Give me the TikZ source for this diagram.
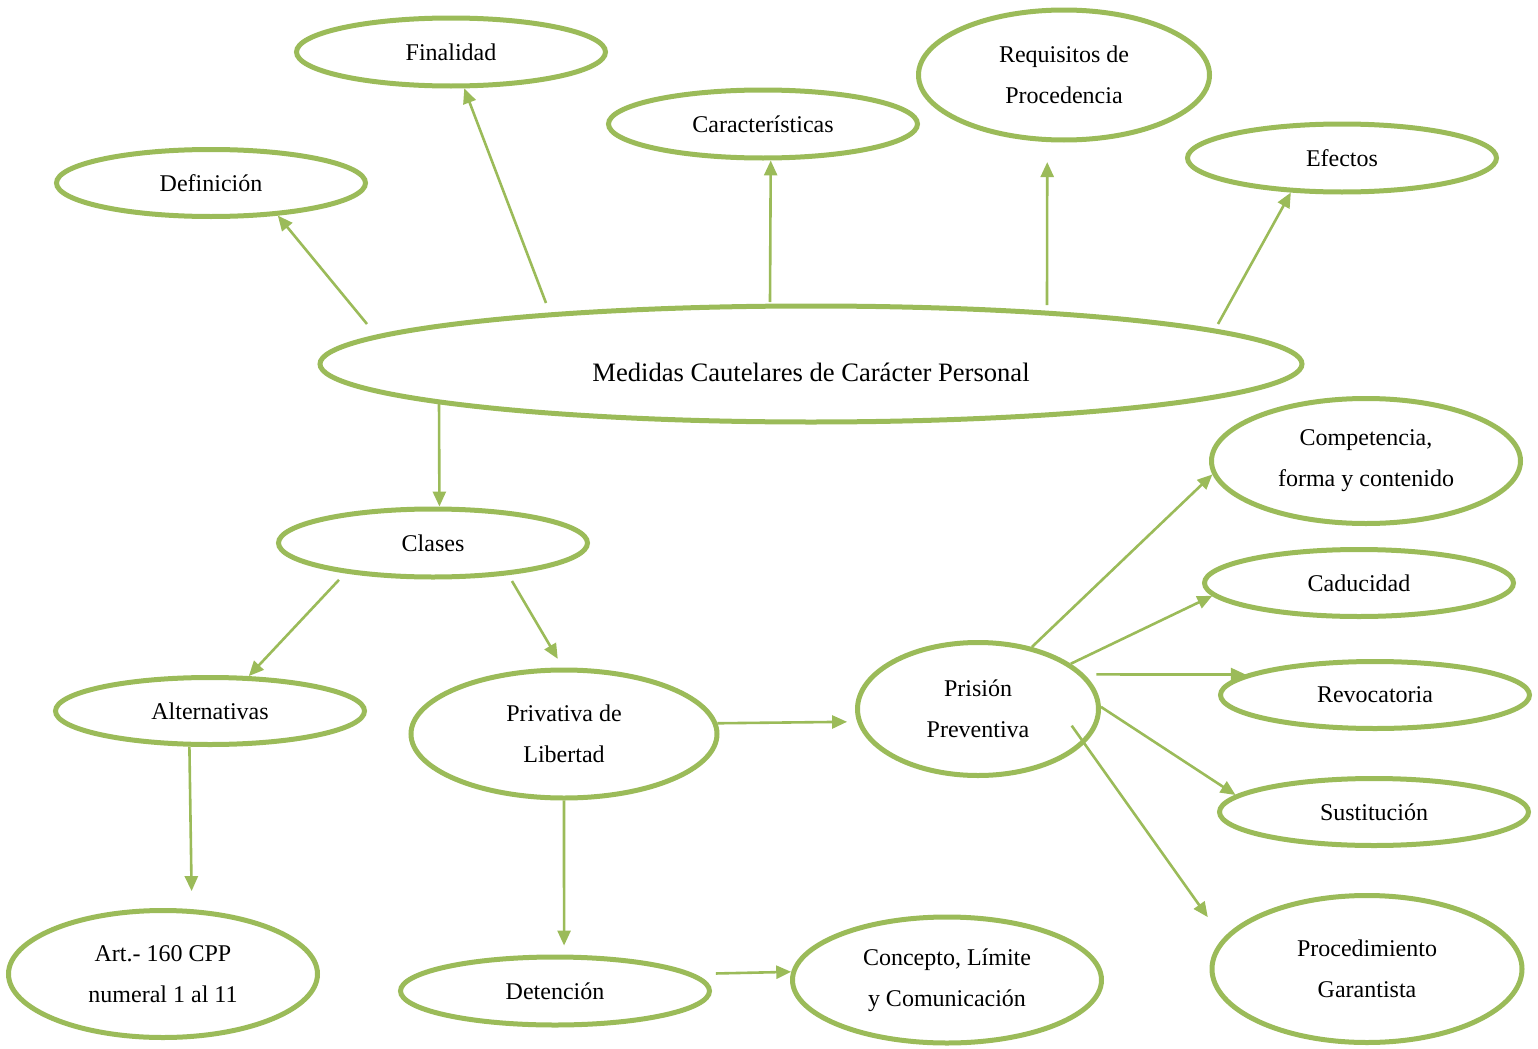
\documentclass[tikz,border=0pt]{standalone}
\usepackage{fontspec}
\setmainfont{Liberation Serif}
\usetikzlibrary{shapes.geometric,arrows.meta,calc}
\definecolor{olivo}{HTML}{9BBB59}
\begin{document}
\begin{tikzpicture}[x=0.5pt,y=-0.5pt,
        ov/.style={ellipse,draw=olivo,line width=2.5pt,inner sep=0pt,align=center,
          font=\fontsize{12}{20.5}\selectfont,minimum width=154.5pt,minimum height=34pt},
        flecha/.style={draw=olivo,line width=1.3pt,-{Triangle[length=7.5pt,width=6.5pt]}}]
        \useasboundingbox (0,0) rectangle (1538,1049);
        % centro
        \node[ov,minimum width=491pt,minimum height=58pt,text height=18pt,font=\fontsize{13.3}{16}\selectfont] (med) at (811,364) {Medidas Cautelares de Carácter Personal};
        % arriba
        \node[ov,minimum height=33.5pt] (def) at (211,183) {Definición};
        \node[ov] (fin) at (451,52) {Finalidad};
        \node[ov] (car) at (763,124) {Características};
        \node[ov,minimum width=145.5pt,minimum height=65pt] (req) at (1064,75) {Requisitos de\\Procedencia};
        \node[ov] (efe) at (1342,158) {Efectos};
        % clases
        \node[ov] (cla) at (433,543) {Clases};
        \node[ov,minimum height=33.5pt] (alt) at (210,711) {Alternativas};
        \node[ov,minimum width=153pt,minimum height=64pt] (pri) at (564,734) {Privativa de\\Libertad};
        \node[ov,minimum height=63.5pt] (art) at (163,974) {Art.- 160 CPP\\numeral 1 al 11};
        \node[ov] (det) at (555,991) {Detención};
        \node[ov,minimum height=63pt] (con) at (947,980) {Concepto, Límite\\y Comunicación};
        % prision preventiva
        \node[ov,minimum width=120.5pt,minimum height=66.5pt] (pre) at (978,709) {Prisión\\Preventiva};
        \node[ov,minimum height=62.5pt] (com) at (1366,461) {Competencia,\\forma y contenido};
        \node[ov,minimum height=33.5pt] (cad) at (1359,583) {Caducidad};
        \node[ov,minimum height=33.5pt] (rev) at (1375,695) {Revocatoria};
        \node[ov,minimum height=33.5pt] (sus) at (1374,812) {Sustitución};
        \node[ov,minimum width=155pt,minimum height=73.5pt] (pro) at (1367,969) {Procedimiento\\Garantista};
        % flechas
        \draw[flecha] ($(med)+(-444,-40)$) -- (def.-26);
        \draw[flecha] ($(med)+(-265,-61)$) -- (fin.-70.5);
        \draw[flecha] ($(med)+(-41,-62)$) -- (car.-78.4);
        \draw[flecha,shorten >=10pt] ($(med)+(236,-59)$) -- (req.-104.8);
        \draw[flecha] ($(med)+(407,-40)$) -- (efe.-146.7);
        \draw[flecha] ($(med)+(-372,36)$) -- (cla.80);
        \draw[flecha,shorten <=4.5pt] (cla.-161.5) -- (alt.42.2);
        \draw[flecha,shorten <=3.5pt,shorten >=5pt] (cla.-23.4) -- (pri.91.8);
        \draw[flecha,shorten >=9pt] (alt.-120) -- (art.66.6);
        \draw[flecha,shorten >=4.5pt] (pri.-90.9) -- (det.76.8);
        \draw[flecha,shorten >=5pt] (pri.4.2) -- (pre.186.8);
        \draw[flecha,shorten <=11pt] (det.7.8) -- (con.177.4);
        \draw[flecha] (pre.49.8) -- (com.185.3);
        \draw[flecha] (pre.26.2) -- (cad.185.5);
        \draw[flecha,shorten <=6pt] (pre.18.9) -- (rev.171);
        \draw[flecha] (pre.1.4) -- (sus.173.3);
        \draw[flecha,shorten <=-11pt,shorten >=13pt] (pre.-18.3) -- (pro.168);
\end{tikzpicture}
\end{document}
